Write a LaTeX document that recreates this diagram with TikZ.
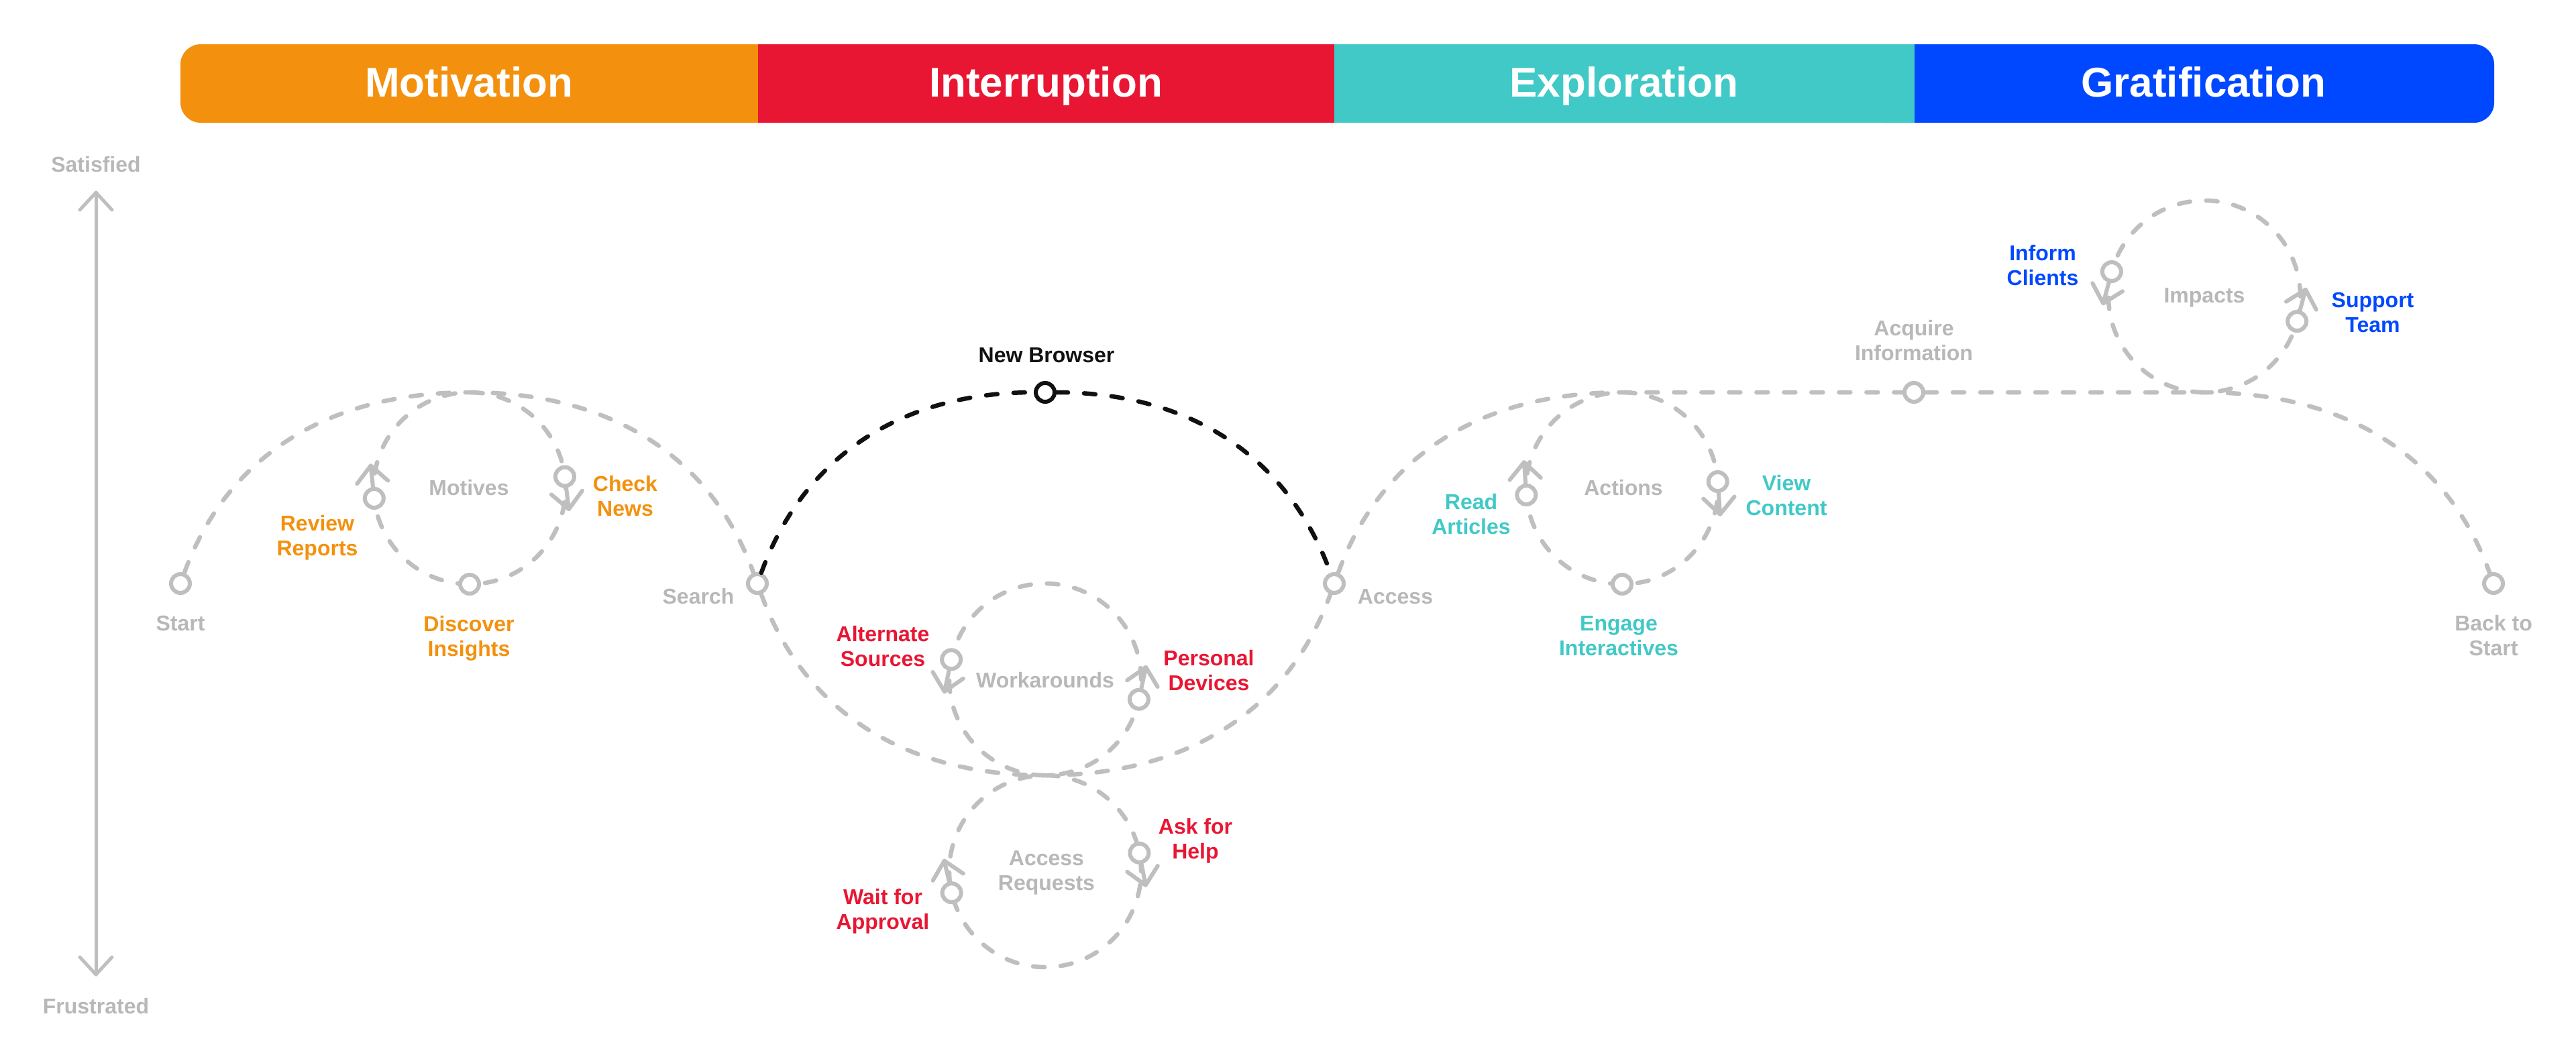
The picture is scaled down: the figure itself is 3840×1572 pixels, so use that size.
\documentclass[tikz,border=0pt]{standalone}
\usepackage{fontspec}
\setmainfont{Liberation Sans}
\usetikzlibrary{arrows.meta,calc}
\definecolor{cO}{HTML}{F3910E}
\definecolor{cR}{HTML}{E91633}
\definecolor{cT}{HTML}{40C9C6}
\definecolor{cB}{HTML}{0048FF}
\definecolor{lg}{HTML}{BFBFBF}
\definecolor{tg}{HTML}{B8B8B8}
\definecolor{nbk}{HTML}{111111}
\newcommand\markarrow[2]{%
  \draw[mkln] (#1.#2) -- ++(#2:32) coordinate (mtip)
     ++(#2+137:34) -- (mtip) -- ++(#2-137:34);}
\begin{document}
\begin{tikzpicture}[x=1pt,y=1pt,
 route/.style={draw=lg, line width=6.5pt, line cap=round, dash pattern=on 17pt off 24pt},
 broute/.style={route, draw=nbk},
 mk/.style={circle, draw=lg, fill=white, line width=6pt, minimum size=28pt, inner sep=0pt},
 mkln/.style={draw=lg, line width=6pt, line cap=round, line join=round},
 lbl/.style={font=\fontsize{32}{37}\selectfont\bfseries, inner sep=0pt, align=center},
 tl/.style={lbl, anchor=north},
 sl/.style={lbl, anchor=base},
 hdr/.style={font=\fontsize{62}{70}\selectfont\bfseries, text=white, inner sep=0pt, anchor=base},
 axisln/.style={draw=lg, line width=5pt, line cap=round, line join=round}
]
\useasboundingbox (0,0) rectangle (3840,-1572);
\fill[white] (0,0) rectangle (3840,-1572);

% header bar
\fill[cO, rounded corners=30pt] (269,-66) rectangle (1200,-183);
\fill[cB, rounded corners=30pt] (2780,-66) rectangle (3718,-183);
\fill[cR] (1130,-66) rectangle (1989,-183);
\fill[cT] (1989,-66) rectangle (2854,-183);
\node[hdr] (hmot) at (699,-144) {Motivation};
\node[hdr] (hint) at (1559,-144) {Interruption};
\node[hdr] (hexp) at (2421,-144) {Exploration};
\node[hdr] (hgra) at (3285,-144) {Gratification};

% vertical axis
\node[sl, text=tg] (sat) at (143,-256) {Satisfied};
\node[sl, text=tg] (fru) at (143,-1511) {Frustrated};
\coordinate (atop) at (143,-287);
\coordinate (abot) at (143,-1453);
\draw[axisln] (abot) -- (atop);
\draw[axisln] ([shift={(-24,-26)}]atop) -- (atop) -- ([shift={(24,-26)}]atop);
\draw[axisln] ([shift={(-24,26)}]abot) -- (abot) -- ([shift={(24,26)}]abot);

% loop centres and path points
\coordinate (mot) at (700,-728);
\coordinate (wrk) at (1558,-1013);
\coordinate (req) at (1558,-1299);
\coordinate (act) at (2418,-728);
\coordinate (imp) at (3286,-442);
\coordinate (pk1) at (700,-585);
\coordinate (low) at (1558,-1156);
\coordinate (pk3) at (2418,-585);
\coordinate (pk5) at (3286,-585);

% loops
\draw[route] (mot) circle[radius=143];
\draw[route] (wrk) circle[radius=143];
\draw[route] (req) circle[radius=143];
\draw[route] (act) circle[radius=143];
\draw[route] (imp) circle[radius=143];

% main markers
\node[mk] (start) at (269,-870) {};
\node[mk] (search) at (1129,-870) {};
\node[mk, draw=nbk] (newb) at (1558,-585) {};
\node[mk] (access) at (1989,-870) {};
\node[mk] (acq) at (2853,-585) {};
\node[mk] (back) at (3717,-870) {};

% main route
\draw[route] (start) to[out=70,in=180] (pk1) to[out=0,in=110] (search);
\draw[route] (search) to[out=-70,in=180] (low) to[out=0,in=-110] (access);
\draw[broute] (search) to[out=70,in=180] (newb);
\draw[broute] (newb) to[out=0,in=110] (access);
\draw[route] (access) to[out=70,in=180] (pk3) -- (acq);
\draw[route] (acq) -- (pk5) to[out=0,in=110] (back);

% loop markers
\node[mk] (rr) at ($(mot)+(186:143)$) {};
\node[mk] (cn) at ($(mot)+(7:143)$) {};
\node[mk] (di) at ($(mot)+(270:143)$) {};
\node[mk] (as) at ($(wrk)+(168:143)$) {};
\node[mk] (pd) at ($(wrk)+(-12:143)$) {};
\node[mk] (wa) at ($(req)+(193:143)$) {};
\node[mk] (ah) at ($(req)+(11:143)$) {};
\node[mk] (ra) at ($(act)+(184:143)$) {};
\node[mk] (vc) at ($(act)+(4:143)$) {};
\node[mk] (ei) at ($(act)+(270:143)$) {};
\node[mk] (ic) at ($(imp)+(165:143)$) {};
\node[mk] (st) at ($(imp)+(-15:143)$) {};

% marker arrows
\markarrow{rr}{96}
\markarrow{cn}{-83}
\markarrow{as}{258}
\markarrow{pd}{78}
\markarrow{wa}{103}
\markarrow{ah}{-79}
\markarrow{ra}{94}
\markarrow{vc}{-86}
\markarrow{ic}{255}
\markarrow{st}{75}

% gray labels
\node[sl, text=tg] (lstart) at (269,-940) {Start};
\node[sl, text=tg] (lsearch) at (1041,-900) {Search};
\node[sl, text=tg] (laccess) at (2080,-900) {Access};
\node[sl, text=tg] (lmot) at (699,-738) {Motives};
\node[sl, text=tg] (lact) at (2420,-738) {Actions};
\node[sl, text=tg] (lwrk) at (1558,-1025) {Workarounds};
\node[sl, text=tg] (limp) at (3286,-451) {Impacts};
\node[tl, text=tg] (lreq) at (1560,-1268) {Access\\Requests};
\node[tl, text=tg] (lacq) at (2853,-477) {Acquire\\Information};
\node[tl, text=tg] (lback) at (3717,-917) {Back to\\Start};
\node[sl, text=nbk] (lnb) at (1560,-540) {New Browser};

% coloured labels
\node[tl, text=cO] (lrr) at (473,-768) {Review\\Reports};
\node[tl, text=cO] (lcn) at (932,-709) {Check\\News};
\node[tl, text=cO] (ldi) at (699,-918) {Discover\\Insights};
\node[tl, text=cR] (las) at (1316,-933) {Alternate\\Sources};
\node[tl, text=cR] (lpd) at (1802,-969) {Personal\\Devices};
\node[tl, text=cR] (lwa) at (1316,-1325) {Wait for\\Approval};
\node[tl, text=cR] (lah) at (1782,-1220) {Ask for\\Help};
\node[tl, text=cT] (lra) at (2193,-736) {Read\\Articles};
\node[tl, text=cT] (lvc) at (2663,-708) {View\\Content};
\node[tl, text=cT] (lei) at (2413,-918) {Engage\\Interactives};
\node[tl, text=cB] (lic) at (3045,-365) {Inform\\Clients};
\node[tl, text=cB] (lst) at (3537,-436) {Support\\Team};
\end{tikzpicture}
\end{document}
